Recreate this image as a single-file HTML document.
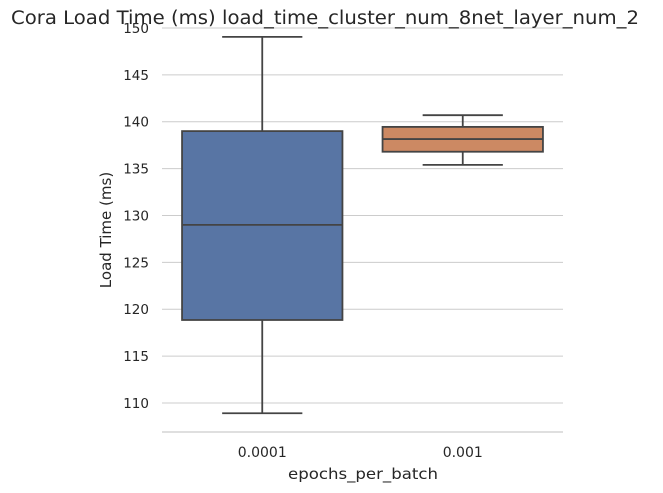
<!DOCTYPE html>
<html><head><meta charset="utf-8"><style>
html,body{margin:0;padding:0;background:#fff;}
svg{display:block;font-family:"DejaVu Sans","Liberation Sans",sans-serif;}
</style></head><body>
<svg id="chart" width="663" height="493"></svg>
<script>
const categories = ["0.0001", "0.001"];
const whiskerLow = [108.9, 135.4];
const q1Values = [118.85, 136.8];
const medianValues = [129.0, 138.15];
const q3Values = [139.0, 139.45];
const whiskerHigh = [149.05, 140.7];
const yTicks = [110, 115, 120, 125, 130, 135, 140, 145, 150];
const colors = ["#5875a4", "#cc8963"];

const NS = "http://www.w3.org/2000/svg";
const svg = document.getElementById("chart");
const plotL = 162, plotR = 563, plotBottom = 432;
const yMin = 106.9, yMax = 150, yTop = 28;
function y(v){ return yTop + (yMax - v) * (plotBottom - yTop) / (yMax - yMin); }
const band = (plotR - plotL) / categories.length;
function xc(i){ return plotL + band * (i + 0.5); }
function el(tag, attrs, text){
  const e = document.createElementNS(NS, tag);
  for (const k in attrs) e.setAttribute(k, attrs[k]);
  if (text !== undefined) e.textContent = text;
  svg.appendChild(e);
  return e;
}
yTicks.forEach(t => {
  const g = el("line", {x1: plotL, x2: plotR, y1: y(t), y2: y(t), stroke: "#cccccc", "stroke-width": 1});
  
  
  const lb = el("text", {x: plotL - 13, y: y(t) + 5, "text-anchor": "end", "font-size": 13.5, fill: "#262626"}, String(t));
  
  
});
const ax = el("line", {x1: plotL, x2: plotR, y1: plotBottom, y2: plotBottom, stroke: "#cccccc", "stroke-width": 1.25});


const bw = band * 0.8;
categories.forEach((c, i) => {
  const cx = xc(i), st = "#444444";
  const w1 = el("line", {x1: cx, x2: cx, y1: y(whiskerHigh[i]), y2: y(q3Values[i]), stroke: st, "stroke-width": 1.8});
  
  
  const w2 = el("line", {x1: cx, x2: cx, y1: y(q1Values[i]), y2: y(whiskerLow[i]), stroke: st, "stroke-width": 1.8});
  
  
  [whiskerHigh[i], whiskerLow[i]].forEach(v => {
    const cap = el("line", {x1: cx - bw/4, x2: cx + bw/4, y1: y(v), y2: y(v), stroke: st, "stroke-width": 1.8});
    
    
  });
  const box = el("rect", {x: cx - bw/2, y: y(q3Values[i]), width: bw, height: y(q1Values[i]) - y(q3Values[i]), fill: colors[i], stroke: st, "stroke-width": 1.8});
  
  
  const med = el("line", {x1: cx - bw/2, x2: cx + bw/2, y1: y(medianValues[i]), y2: y(medianValues[i]), stroke: st, "stroke-width": 1.8});
  
  
  const xl = el("text", {x: cx, y: 457, "text-anchor": "middle", "font-size": 14, fill: "#262626"}, c);
  
  
});
const xt = el("text", {x: 363, y: 479, "text-anchor": "middle", "font-size": 15.5, fill: "#262626", textLength: 150, lengthAdjust: "spacingAndGlyphs"}, "epochs_per_batch");


const yt = el("text", {x: 111, y: 230, "text-anchor": "middle", "font-size": 15, fill: "#262626", transform: "rotate(-90 111 230)"}, "Load Time (ms)");


const tt = el("text", {x: 325, y: 24, "text-anchor": "middle", "font-size": 18.5, fill: "#262626", textLength: 628, lengthAdjust: "spacingAndGlyphs"}, "Cora Load Time (ms) load_time_cluster_num_8net_layer_num_2");


</script>
</body></html>
